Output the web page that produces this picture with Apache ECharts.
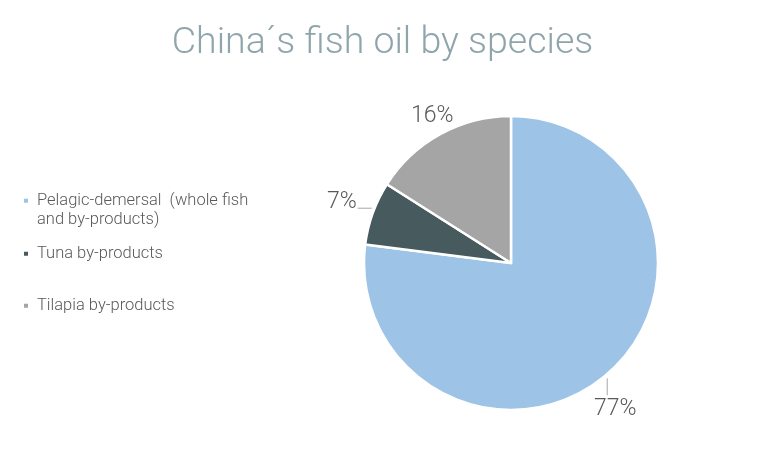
<!DOCTYPE html>
<html><head><meta charset="utf-8">
<script src="https://cdn.jsdelivr.net/npm/echarts@6/dist/echarts.min.js"></script>
<style>html,body{margin:0;padding:0;background:#fff}#c{width:765px;height:459px}</style>
</head><body><div id="c"></div>
<script>
const categories = ['Pelagic-demersal  (whole fish\nand by-products)', 'Tuna by-products', 'Tilapia by-products'];
const values = [77, 7, 16];
const colors = ['#9DC3E6', '#475A5E', '#A5A5A5'];

const LH = 19.5;
const legendTops = [171.5, 244, 296];
const legendBase = {
  orient: 'vertical', left: 22, padding: 0,
  itemWidth: 6, itemHeight: 6, icon: 'rect',
  textStyle: { fontFamily: 'Roboto', fontWeight: 300, fontSize: 16.5, color: '#595959', lineHeight: LH, padding: [0, 0, 0, 3] }
};
const legends = categories.map((c, i) => Object.assign({}, legendBase, {
  top: legendTops[i],
  // a leading empty line keeps the marker level with the first text line
  formatter: i === 0 ? (n => '\n' + n) : (n => n),
  data: [c]
}));

// offsets of labels relative to the pie edge point computed by ECharts
const labelAdjust = [
  { line: [[-1, 5], [-1, 22]], dx: 7, dy: 36, align: 'center' },
  { line: [[-1, -5], [-15, -5]], dx: -16, dy: -11, align: 'right' },
  { line: null, dx: -8, dy: -18, align: 'center' }
];

const chart = echarts.init(document.getElementById('c'));
chart.setOption({
  animation: false,
  title: {
    text: 'China´s fish oil by species',
    left: 'center', top: 20,
    textStyle: { fontFamily: 'Roboto', fontWeight: 300, fontSize: 37.5, color: '#8FA5AB' }
  },
  legend: legends,
  series: [{
    type: 'pie',
    center: [511, 263], radius: 147,
    startAngle: 90, clockwise: true,
    itemStyle: { borderColor: '#fff', borderWidth: 2.5 },
    label: {
      formatter: '{d}%', fontFamily: 'Roboto', fontWeight: 300, fontSize: 23, color: '#595959'
    },
    labelLine: { length: 10, length2: 6, lineStyle: { color: '#A6A6A6', width: 1 } },
    labelLayout: function (params) {
      const a = labelAdjust[params.dataIndex];
      const p = params.labelLinePoints ? params.labelLinePoints[0] : [params.labelRect.x, params.labelRect.y];
      const res = { x: p[0] + a.dx, y: p[1] + a.dy, align: a.align, verticalAlign: 'middle' };
      if (a.line) {
        const pts = a.line.map(o => [p[0] + o[0], p[1] + o[1]]);
        pts.push(pts[pts.length - 1]);
        res.labelLinePoints = pts;
      }
      return res;
    },
    data: categories.map((c, i) => ({
      name: c, value: values[i], itemStyle: { color: colors[i] },
      labelLine: { show: labelAdjust[i].line !== null }
    }))
  }]
});
</script></body></html>
